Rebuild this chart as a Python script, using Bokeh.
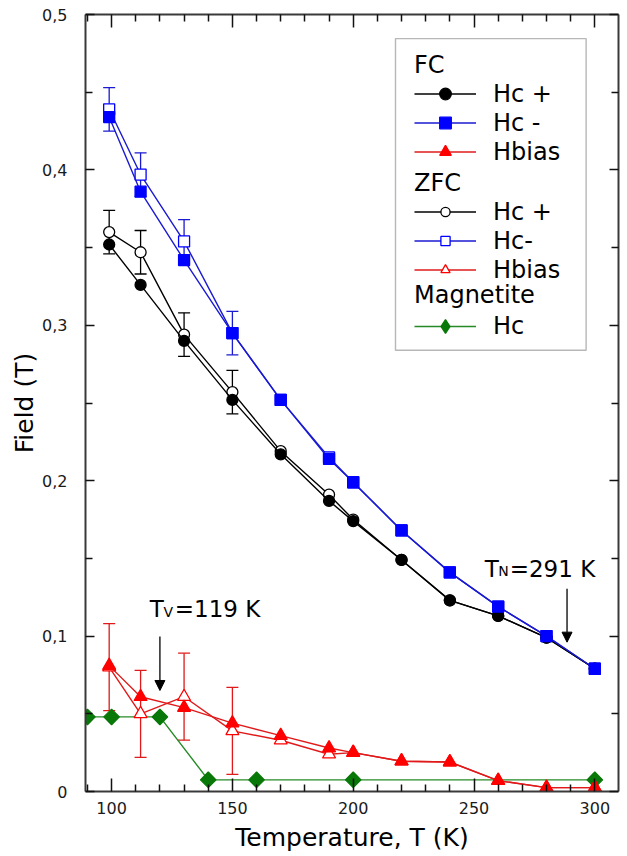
import math
from bokeh.plotting import figure
from bokeh.models import (Range1d, LinearAxis, FixedTicker, CustomJSTickFormatter, Legend,
                          LegendItem, Whisker, TeeHead, ColumnDataSource, Label, Arrow,
                          NormalHead, BoxAnnotation)
from bokeh.embed import file_html
from bokeh.resources import INLINE

# ---------------- data ----------------
T = [99, 112, 130, 150, 170, 190, 200, 220, 240, 260, 280, 300]
fc_hc_plus = [0.352, 0.326, 0.290, 0.252, 0.217, 0.187, 0.174, 0.149, 0.123, 0.113, 0.099, 0.079]
fc_hc_minus = [0.434, 0.386, 0.342, 0.295, 0.252, 0.214, 0.199, 0.168, 0.141, 0.119, 0.100, 0.079]
fc_hbias = [0.081, 0.061, 0.054, 0.044, 0.036, 0.028, 0.025, 0.0195, 0.019, 0.007, 0.0025, 0.0025]
zfc_hc_plus = [0.360, 0.347, 0.294, 0.257, 0.219, 0.191, 0.175, 0.149, 0.123, 0.113, 0.099, 0.079]
zfc_hc_minus = [0.439, 0.397, 0.354, 0.295, 0.252, 0.215, 0.199, 0.168, 0.141, 0.119, 0.100, 0.079]
zfc_hbias = [0.080, 0.050, 0.061, 0.039, 0.033, 0.024, 0.025, 0.0195, 0.019, 0.007, 0.0025, 0.0025]

err_T = [99, 112, 130, 150]
zfc_hc_plus_err = [0.014, 0.014, 0.014, 0.014]
zfc_hc_minus_err = [0.014, 0.014, 0.014, 0.014]
zfc_hbias_err = [0.028, 0.028, 0.028, 0.028]

mag_T = [90, 100, 120, 140, 160, 200, 300]
mag_hc = [0.048, 0.048, 0.048, 0.0075, 0.0075, 0.0075, 0.0075]

x_major = [100, 150, 200, 250, 300]
x_minor = [90, 110, 120, 130, 140, 160, 170, 180, 190, 210, 220, 230, 240, 260, 270, 280, 290, 310]
y_major = [0, 0.1, 0.2, 0.3, 0.4, 0.5]
y_minor = [0.05, 0.15, 0.25, 0.35, 0.45]

T_V = 119
T_N = 291

FONT = "DejaVu Sans"
BLACK = "#000000"
BLUE = "#0000ff"
BLUE_L = "#1a1ad2"
RED = "#ff0000"
RED_L = "#e01a1a"
GREEN = "#087808"
GREEN_L = "#268a26"

X0, X1 = 89.2, 309.8
p = figure(width=627, height=856, output_backend="svg", toolbar_location=None,
           x_range=Range1d(X0, X1), y_range=Range1d(0, 0.5),
           x_axis_location=None, y_axis_location=None,
           min_border_left=85, min_border_right=9, min_border_top=14, min_border_bottom=65)
p.outline_line_color = None
p.xgrid.visible = False
p.ygrid.visible = False
p.background_fill_color = "white"

xticker = FixedTicker(ticks=x_major, minor_ticks=x_minor)
yticker = FixedTicker(ticks=y_major, minor_ticks=y_minor)


def style_axis(ax, tick_in, minor_in):
    ax.axis_line_color = "#3a3a3a"
    ax.axis_line_width = 2
    ax.major_tick_in = tick_in
    ax.major_tick_out = 0
    ax.minor_tick_in = minor_in
    ax.minor_tick_out = 0
    ax.major_tick_line_color = "#111111"
    ax.major_tick_line_width = 1.5
    ax.minor_tick_line_color = "#111111"
    ax.minor_tick_line_width = 1.5
    ax.major_label_text_font = FONT
    ax.major_label_text_font_size = "16px"
    ax.major_label_text_color = "#1a1a1a"
    ax.axis_label_text_font = FONT
    ax.axis_label_text_font_size = "25px"
    ax.axis_label_text_font_style = "normal"
    ax.axis_label_text_color = "#000000"


def blank_axis(ax):
    ax.formatter = CustomJSTickFormatter(code="return '';")
    ax.major_label_text_font_size = "0px"
    ax.major_label_standoff = 0
    ax.axis_label_standoff = 0


bottom = LinearAxis(ticker=xticker, axis_label="Temperature, T (K)")
style_axis(bottom, 13, 7)
bottom.major_label_standoff = 10
bottom.axis_label_standoff = 6
p.add_layout(bottom, "below")

top = LinearAxis(ticker=xticker)
style_axis(top, 13, 7)
blank_axis(top)
p.add_layout(top, "above")

yfmt = CustomJSTickFormatter(
    code="return tick == 0 ? '0' : tick.toFixed(1).replace('.', ',');")
left = LinearAxis(ticker=yticker, axis_label="Field (T)", formatter=yfmt)
style_axis(left, 9, 7)
left.major_label_standoff = 18
left.axis_label_standoff = 0
p.add_layout(left, "left")

right = LinearAxis(ticker=yticker)
style_axis(right, 9, 7)
blank_axis(right)
p.add_layout(right, "right")


def series(xs, ys, color, line_color, marker, fill, size, angle=0.0, lw=1.3):
    rl = p.line(xs, ys, line_color=line_color, line_width=1.4)
    rs = p.scatter(xs, ys, marker=marker, size=size, angle=angle, line_color=color,
                   fill_color=fill, line_width=lw)
    return [rl, rs]


# Magnetite
mag = series(mag_T, mag_hc, GREEN, GREEN_L, "square", GREEN, 11, angle=math.pi / 4)
# legend-only diamond (legend glyphs ignore the marker angle)
mag_leg = p.scatter(mag_T, mag_hc, marker="diamond", line_color=GREEN, fill_color=GREEN,
                    line_width=1.3, visible=False)

# ZFC (open markers)
zfc_p = series(T, zfc_hc_plus, BLACK, BLACK, "circle", "white", 11)
zfc_m = series(T, zfc_hc_minus, BLUE, BLUE_L, "square", "white", 11)
zfc_b = series(T, zfc_hbias, RED, RED_L, "triangle", "white", 13)


def whisker(vals, errs, color):
    src = ColumnDataSource(dict(x=err_T,
                                lo=[v - e for v, e in zip(vals, errs)],
                                hi=[v + e for v, e in zip(vals, errs)]))
    w = Whisker(source=src, base="x", lower="lo", upper="hi", dimension="height",
                line_color=color, line_width=1.3,
                upper_head=TeeHead(size=12, line_color=color, line_width=1.3),
                lower_head=TeeHead(size=12, line_color=color, line_width=1.3))
    p.add_layout(w)


whisker(zfc_hc_plus[:4], zfc_hc_plus_err, BLACK)
whisker(zfc_hc_minus[:4], zfc_hc_minus_err, BLUE_L)
whisker(zfc_hbias[:4], zfc_hbias_err, RED_L)

# FC (filled markers)
fc_p = series(T, fc_hc_plus, BLACK, BLACK, "circle", BLACK, 11)
fc_m = series(T, fc_hc_minus, BLUE, BLUE_L, "square", BLUE, 11)
fc_b = series(T, fc_hbias, RED, RED_L, "triangle", RED, 13)

# ---------------- legends ----------------
def make_legend(title, items, loc, gh):
    lg = Legend(title=title, items=items, location=loc)
    lg.border_line_color = None
    lg.background_fill_alpha = 0
    lg.padding = 0
    lg.margin = 0
    lg.spacing = 0
    lg.label_height = 29
    lg.glyph_height = gh
    lg.glyph_width = 62
    lg.label_standoff = 17
    lg.label_text_font = FONT
    lg.label_text_font_size = "24px"
    lg.label_text_color = "black"
    lg.title_text_font = FONT
    lg.title_text_font_size = "24px"
    lg.title_text_font_style = "normal"
    lg.title_text_color = "black"
    lg.title_standoff = 0
    p.add_layout(lg)
    return lg


make_legend("FC", [LegendItem(label="Hc +", renderers=fc_p),
                   LegendItem(label="Hc -", renderers=fc_m),
                   LegendItem(label="Hbias", renderers=fc_b)], (329, 625), 29)
make_legend("ZFC", [LegendItem(label="Hc +", renderers=zfc_p),
                    LegendItem(label="Hc-", renderers=zfc_m),
                    LegendItem(label="Hbias", renderers=zfc_b)], (329, 507), 23)
make_legend("Magnetite", [LegendItem(label="Hc", renderers=[mag[0], mag_leg])], (329, 448), 34)

p.add_layout(BoxAnnotation(left=217.5, right=296.4, bottom=0.2839, top=0.4845,
                           fill_color=None, line_color="#111111", line_width=1.4))

# ---------------- annotations ----------------
def sub_label(x0, y0, main, sub, rest):
    p.add_layout(Label(x=x0, y=y0, text=main, text_font=FONT, text_font_size="23px",
                       text_baseline="alphabetic", text_color="black"))
    p.add_layout(Label(x=x0 + 5.65, y=y0 - 0.0017, text=sub, text_font=FONT,
                       text_font_size="14px", text_baseline="alphabetic", text_color="black"))
    p.add_layout(Label(x=x0 + 10.35, y=y0, text=rest, text_font=FONT, text_font_size="23px",
                       text_baseline="alphabetic", text_color="black"))


sub_label(115.8, 0.1172, "T", "V", "=%d K" % T_V)
sub_label(254.4, 0.1434, "T", "N", "=%d K" % T_N)

p.add_layout(Arrow(x_start=120, y_start=0.0998, x_end=120, y_end=0.065,
                   line_color="black", line_width=1.3,
                   end=NormalHead(size=10, fill_color="black", line_color="black")))
p.add_layout(Arrow(x_start=288.5, y_start=0.1304, x_end=288.5, y_end=0.0961,
                   line_color="black", line_width=1.3,
                   end=NormalHead(size=10, fill_color="black", line_color="black")))

open("out.html", "w").write(file_html(p, INLINE))
